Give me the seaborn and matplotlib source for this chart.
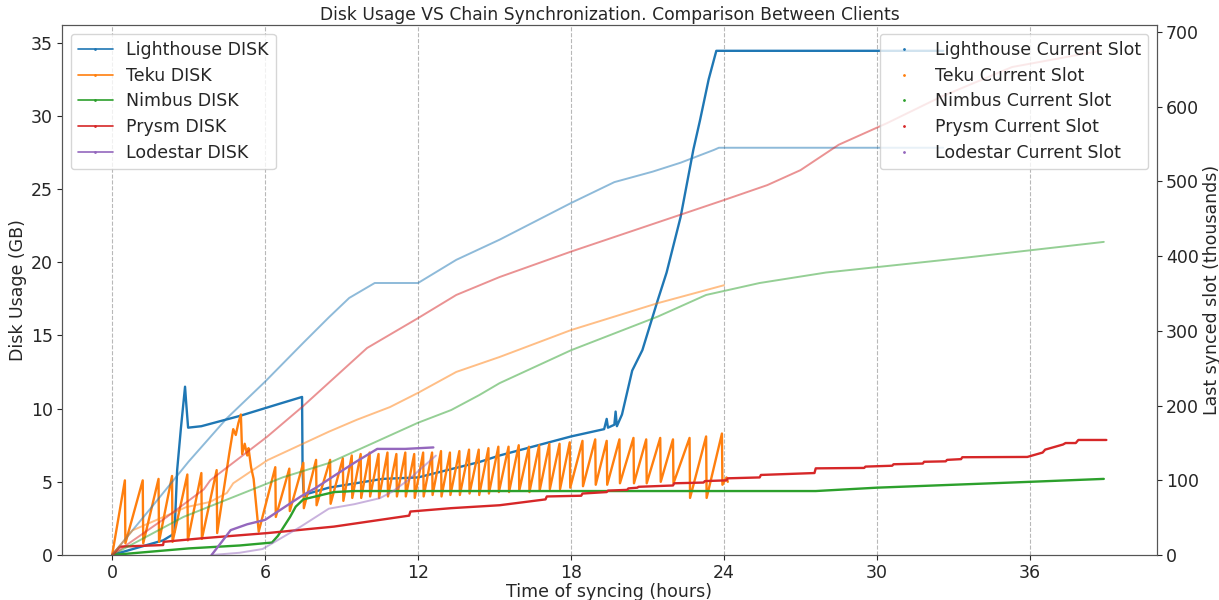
import matplotlib
matplotlib.use("Agg")
import matplotlib.pyplot as plt
import seaborn as sns
from matplotlib.lines import Line2D

# ---------------- data ----------------
clients = ["Lighthouse", "Teku", "Nimbus", "Prysm", "Lodestar"]

# Disk usage (GB) vs hours
lh_disk_h = [0, 1.0, 2.0, 2.35, 2.45, 2.55, 2.7, 2.86, 2.9, 2.98, 3.5, 5.0, 6.5, 7.45, 7.47, 7.5, 7.55,
             7.7, 8.5, 10.6, 12.0, 14.4, 15.2, 18.0, 19.3, 19.4, 19.45, 19.7, 19.75, 19.8, 20.0, 20.4,
             20.8, 21.4, 21.75, 22.3, 22.8, 23.06, 23.4, 23.7, 32.6]
lh_disk_gb = [0, 0.5, 1.0, 1.37, 1.6, 5.8, 8.7, 11.5, 10.5, 8.7, 8.8, 9.5, 10.3, 10.8, 5.9, 4.5, 4.0,
              4.2, 4.6, 5.2, 5.3, 6.35, 6.8, 8.1, 8.6, 9.3, 8.7, 8.9, 9.8, 8.8, 9.6, 12.6,
              14.0, 17.4, 19.3, 23.1, 27.7, 29.7, 32.5, 34.45, 34.45]

teku_disk_h = [
    0.00, 0.50, 0.52, 1.20, 1.22, 1.82, 1.84, 2.35, 2.37, 2.95, 2.97, 3.50, 3.52, 4.10, 4.12,
    4.60, 4.75, 4.85, 4.95, 5.05, 5.10, 5.20, 5.30, 5.35, 5.45, 5.55, 5.75,
    6.40, 6.42, 6.95, 6.97, 7.50, 7.52, 8.00, 8.02, 8.55, 8.57, 9.05, 9.07,
    9.40, 9.42, 9.75, 9.77, 10.10, 10.12, 10.45, 10.47, 10.80, 10.82, 11.15, 11.17, 11.50, 11.52, 11.85, 11.87,
    12.20, 12.22, 12.55, 12.57, 12.90, 12.92, 13.25, 13.27, 13.62, 13.64, 14.00, 14.02, 14.38, 14.40, 14.76, 14.78,
    15.15, 15.17, 15.55, 15.57, 15.95, 15.97, 16.35, 16.37, 16.75, 16.77, 17.15, 17.17, 17.55, 17.57, 17.95, 17.97,
    18.45, 18.47, 18.95, 18.97, 19.40, 19.42, 19.90, 19.92, 20.45, 20.47, 20.95, 20.97, 21.50, 21.52, 22.00, 22.02,
    22.65, 22.67, 23.30, 23.32, 23.92, 23.94, 24.10, 24.15]
teku_disk_gb = [
    0.0, 5.1, 0.8, 5.1, 0.8, 5.2, 0.9, 5.4, 0.9, 5.5, 1.0, 5.6, 1.1, 5.8, 1.5,
    7.0, 8.6, 8.2, 9.0, 9.6, 6.9, 7.6, 6.8, 7.3, 6.0, 5.2, 1.6,
    6.0, 2.6, 5.9, 3.0, 6.3, 3.2, 6.5, 3.4, 6.5, 3.5, 6.6, 3.7,
    6.8, 3.9, 6.9, 3.9, 7.0, 4.0, 6.9, 3.9, 7.0, 4.0, 6.9, 4.0, 7.0, 4.0, 6.9, 3.9,
    7.0, 4.0, 7.0, 4.1, 7.1, 4.0, 7.0, 4.1, 7.1, 4.1, 7.2, 4.2, 7.2, 4.1, 7.3, 4.2,
    7.4, 4.3, 7.4, 4.3, 7.5, 4.4, 7.4, 4.3, 7.5, 4.4, 7.6, 4.5, 7.6, 4.5, 7.7, 4.6,
    7.8, 4.7, 7.9, 4.8, 7.8, 4.8, 7.9, 4.9, 8.0, 4.9, 7.9, 4.9, 8.0, 5.0, 7.9, 4.9,
    8.0, 3.9, 8.1, 3.9, 8.3, 4.8, 5.3, 5.0]

nimbus_disk_h = [0, 1.0, 3.0, 5.0, 6.27, 6.5, 6.98, 7.2, 7.5, 8.7, 9.5, 27.6, 30.0, 33.0, 36.0, 38.9]
nimbus_disk_gb = [0, 0.15, 0.45, 0.65, 0.85, 1.3, 2.6, 3.3, 3.8, 4.3, 4.37, 4.37, 4.6, 4.8, 5.0, 5.2]

prysm_disk_h = [0, 0.3, 2.0, 2.02, 3.5, 6.1, 8.7, 11.65, 11.7, 13.3, 15.2, 17.0, 17.05, 18.4, 18.45,
                19.4, 19.45, 20.2, 20.25, 20.6, 20.65, 22.0, 22.05, 23.2, 23.25, 24.1, 24.15, 25.4, 25.45,
                27.55, 27.6, 29.5, 29.55, 30.6, 30.65, 31.8, 31.85, 32.7, 32.75, 33.3, 33.35, 35.9, 36.5,
                36.6, 37.0, 37.3, 37.4, 37.8, 37.9, 39.0]
prysm_disk_gb = [0, 0.57, 0.68, 0.9, 1.14, 1.5, 1.94, 2.69, 2.97, 3.2, 3.4, 3.8, 4.0, 4.05, 4.2,
                 4.3, 4.4, 4.45, 4.55, 4.6, 4.66, 4.75, 4.9, 4.95, 5.05, 5.1, 5.24, 5.3, 5.47,
                 5.6, 5.92, 5.95, 6.04, 6.1, 6.2, 6.25, 6.37, 6.4, 6.5, 6.55, 6.68, 6.7, 7.0,
                 7.2, 7.4, 7.55, 7.65, 7.65, 7.86, 7.86]

lode_disk_h = [3.9, 4.3, 4.65, 5.3, 6.0, 6.7, 7.4, 8.0, 8.7, 9.5, 10.4, 11.5, 12.6]
lode_disk_gb = [0, 0.9, 1.7, 2.1, 2.4, 3.2, 4.0, 4.6, 5.4, 6.3, 7.25, 7.25, 7.35]

# Last synced slot (thousands) vs hours
lh_slot_h = [0, 1.5, 3.0, 4.5, 6.0, 7.5, 8.5, 9.3, 10.3, 12.0, 13.5, 15.2, 18.0, 19.7, 21.2, 22.3, 23.6, 23.8, 32.6]
lh_slot_k = [0, 62, 125, 183, 232, 284, 318, 344, 364, 364, 395, 422, 471, 499, 513, 525, 542, 545, 545]

teku_slot_h = [0, 0.8, 2.9, 3.84, 4.5, 4.75, 6.1, 8.5, 9.6, 10.9, 12.0, 13.5, 15.2, 15.9, 18.0, 21.4, 24.0]
teku_slot_k = [0, 33, 64, 71, 83, 96, 127, 165, 181, 198, 217, 245, 265, 274, 301, 337, 361]

nimbus_slot_h = [0, 2.8, 6.7, 8.5, 12.0, 13.3, 14.4, 15.2, 18.0, 21.4, 23.3, 25.4, 28.0, 33.5, 38.9]
nimbus_slot_k = [0, 51, 104, 123, 177, 194, 214, 230, 274, 319, 348, 364, 378, 398, 419]

prysm_slot_h = [0, 2.15, 3.6, 3.85, 6.07, 7.45, 10.0, 12.0, 13.5, 15.2, 18.0, 24.0, 25.7, 27.0, 28.5,
                30.4, 32.5, 35.3, 38.8]
prysm_slot_k = [0, 51, 88, 100, 158, 198, 277, 317, 348, 372, 406, 475, 495, 515, 549,
                578, 613, 653, 675]

lode_slot_h = [3.9, 5.0, 5.9, 6.6, 7.4, 8.5, 9.5, 10.5, 11.0, 11.6, 12.5, 12.7]
lode_slot_k = [0, 3, 8, 22, 38, 62, 68, 76, 85, 100, 127, 133]

x_ticks = [0, 6, 12, 18, 24, 30, 36]

# ---------------- plot ----------------
sns.set_style("ticks")
plt.rcParams["font.family"] = ["DejaVu Sans"]
palette = sns.color_palette("tab10")

fig = plt.figure(figsize=(12.19, 6.0), dpi=100)
ax1 = fig.add_axes([0.051, 0.075, 0.898, 0.883])
ax2 = ax1.twinx()

disk = [(lh_disk_h, lh_disk_gb), (teku_disk_h, teku_disk_gb), (nimbus_disk_h, nimbus_disk_gb),
        (prysm_disk_h, prysm_disk_gb), (lode_disk_h, lode_disk_gb)]
slot = [(lh_slot_h, lh_slot_k), (teku_slot_h, teku_slot_k), (nimbus_slot_h, nimbus_slot_k),
        (prysm_slot_h, prysm_slot_k), (lode_slot_h, lode_slot_k)]

for (h, v), c in zip(slot, palette):
    sns.lineplot(x=h, y=v, ax=ax2, color=c, alpha=0.5, linewidth=1.4,
                 estimator=None, sort=False, legend=False)
for (h, v), c in zip(disk, palette):
    sns.lineplot(x=h, y=v, ax=ax1, color=c, linewidth=1.7,
                 estimator=None, sort=False, legend=False)

ax1.set_xlim(-1.96, 40.98)
ax1.set_ylim(0, 36.2)
ax2.set_ylim(0, 709)
ax1.set_xticks(x_ticks)
ax1.set_yticks([0, 5, 10, 15, 20, 25, 30, 35])
ax2.set_yticks([0, 100, 200, 300, 400, 500, 600, 700])
ax1.grid(axis="x", linestyle="--", color="#b8b8b8", linewidth=0.8)
ax1.tick_params(labelsize=12.5, pad=3)
ax2.tick_params(labelsize=12.5, pad=3)

ax1.set_xlabel("Time of syncing (hours)", fontsize=12.5, labelpad=1)
ax1.set_ylabel("Disk Usage (GB)", fontsize=12.5, labelpad=3)
ax2.set_ylabel("Last synced slot (thousands)", fontsize=12.5, labelpad=3)
ax1.set_title("Disk Usage VS Chain Synchronization. Comparison Between Clients", fontsize=12.3, pad=4)

for ax in (ax1, ax2):
    for s in ax.spines.values():
        s.set_color("#555555")

disk_handles = [Line2D([], [], color=c, linewidth=1.2, marker=".", markersize=2) for c in palette[:5]]
ax1.legend(disk_handles, [f"{n} DISK" for n in clients], loc="upper left", fontsize=12.5,
           labelspacing=0.45)
slot_handles = [Line2D([], [], color=c, linestyle="None", marker=".", markersize=2) for c in palette[:5]]
ax2.legend(slot_handles, [f"{n} Current Slot" for n in clients], loc="upper right", fontsize=12.5,
           labelspacing=0.45)

fig.savefig("out.png", dpi=100)
